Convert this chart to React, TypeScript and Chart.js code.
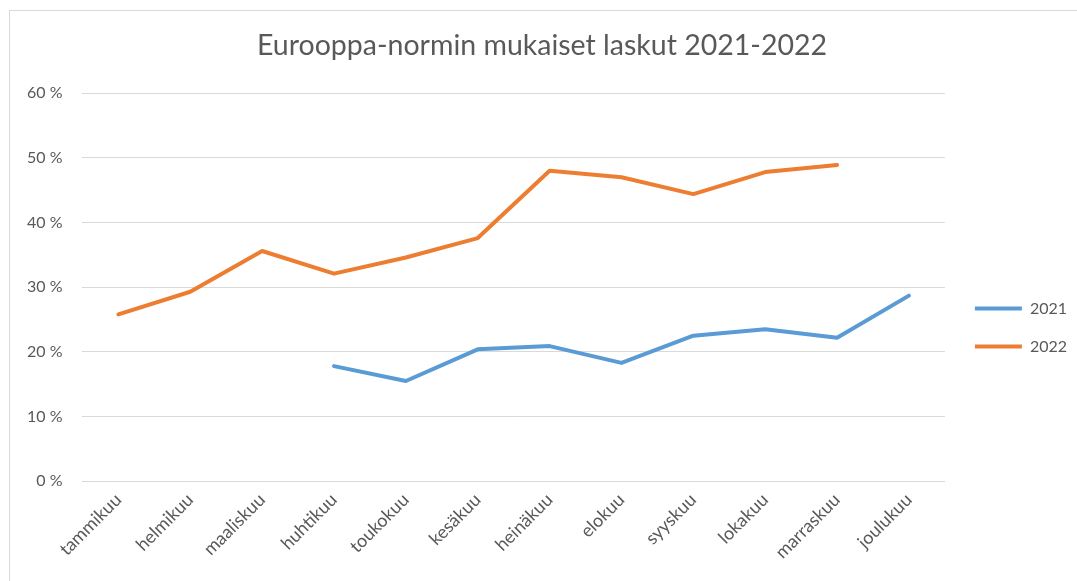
import React, { useEffect, useRef } from "react";
import { Chart, registerables } from "chart.js";

Chart.register(...registerables);

const months = [
  "tammikuu", "helmikuu", "maaliskuu", "huhtikuu", "toukokuu", "kesäkuu",
  "heinäkuu", "elokuu", "syyskuu", "lokakuu", "marraskuu", "joulukuu",
];
const series2021 = [null, null, null, 17.8, 15.5, 20.4, 20.9, 18.3, 22.5, 23.5, 22.2, 28.7];
const series2022 = [25.8, 29.3, 35.6, 32.1, 34.6, 37.6, 48.0, 47.0, 44.4, 47.8, 48.9, null];
const yTicks = [0, 10, 20, 30, 40, 50, 60];
const titleText = "Eurooppa-normin mukaiset laskut 2021-2022";

const TEXT = "#595959";
const GRID = "#d9d9d9";
const FONT = "Lato, 'Open Sans', sans-serif";

export default function App() {
  const ref = useRef<HTMLCanvasElement | null>(null);

  useEffect(() => {
    if (!ref.current) return;
    const chart = new Chart(ref.current, {
      type: "line",
      data: {
        labels: months,
        datasets: [
          {
            label: "2021",
            data: series2021,
            borderColor: "#5b9bd5",
            backgroundColor: "#5b9bd5",
            borderWidth: 4,
            pointRadius: 0,
            borderCapStyle: "round",
            borderJoinStyle: "round",
            spanGaps: false,
          },
          {
            label: "2022",
            data: series2022,
            borderColor: "#ed7d31",
            backgroundColor: "#ed7d31",
            borderWidth: 4,
            pointRadius: 0,
            borderCapStyle: "round",
            borderJoinStyle: "round",
            spanGaps: false,
          },
        ],
      },
      options: {
        responsive: false,
        animation: false,
        devicePixelRatio: 1,
        layout: { padding: { left: 7, right: 0, top: 19, bottom: 10 } },
        plugins: {
          title: {
            display: true,
            text: titleText,
            color: TEXT,
            font: { family: FONT, size: 28.5, weight: "normal" },
            padding: { top: 10, bottom: 30 },
          },
          legend: {
            position: "right",
            title: {
              display: true,
              text: " ",
              font: { family: FONT, size: 16 },
              padding: 23,
            },
            labels: {
              usePointStyle: true,
              pointStyle: "line",
              pointStyleWidth: 47,
              color: TEXT,
              font: { family: FONT, size: 16 },
              padding: 22,
            },
          },
          tooltip: { enabled: false },
        },
        scales: {
          x: {
            offset: true,
            grid: { display: false, drawTicks: false },
            border: { display: true, color: GRID, width: 1 },
            ticks: {
              autoSkip: false,
              minRotation: 45,
              maxRotation: 45,
              padding: 8,
              color: TEXT,
              font: { family: FONT, size: 18 },
            },
          },
          y: {
            min: 0,
            max: 60,
            afterBuildTicks: (axis: any) => {
              axis.ticks = yTicks.map((v) => ({ value: v }));
            },
            grid: { color: GRID, lineWidth: 1, drawTicks: false },
            border: { display: false },
            ticks: {
              padding: 20,
              color: TEXT,
              font: { family: FONT, size: 16 },
              callback: (v: any) => `${v} %`,
            },
          },
          spacer: {
            type: "linear",
            position: "right",
            display: true,
            grid: { display: false, drawTicks: true, tickLength: 8 },
            border: { display: false },
            ticks: { display: false },
          },
        },
      },
    });
    return () => chart.destroy();
  }, []);

  return (
    <div style={{ position: "fixed", left: 0, top: 0, width: 1077, height: 581, overflow: "hidden", background: "#fff" }}>
      <div style={{ position: "absolute", left: 9, top: 10, width: 1100, height: 600, border: `1px solid ${GRID}`, boxSizing: "border-box" }} />
      <canvas ref={ref} width={1077} height={581} style={{ position: "absolute", left: 0, top: 0, width: 1077, height: 581 }} />
    </div>
  );
}
